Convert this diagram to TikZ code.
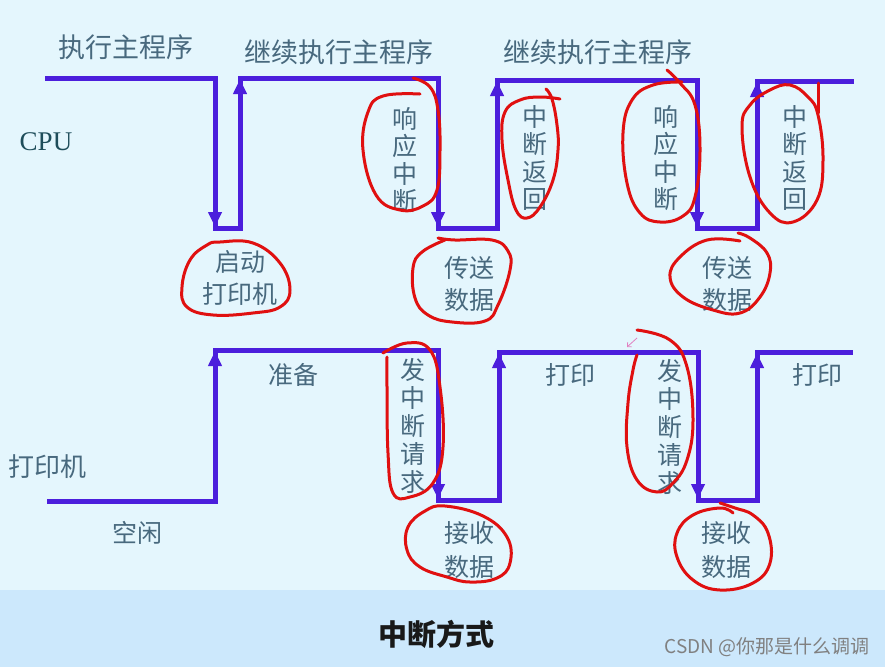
\documentclass[tikz,border=0pt]{standalone}
\usepackage{fontspec}
\setmainfont{Liberation Serif}
\newfontfamily\cjk{Noto Sans CJK SC}
\usetikzlibrary{arrows.meta}
\definecolor{bgtop}{HTML}{E4F6FD}
\definecolor{bgbot}{HTML}{CCE8FC}
\definecolor{wavecol}{HTML}{4B1EDC}
\definecolor{lbl}{HTML}{48697E}
\definecolor{cpucol}{HTML}{1E4D5A}
\definecolor{pen}{HTML}{E01010}
\definecolor{cursor}{HTML}{E080C0}
\begin{document}
\begin{tikzpicture}[x=1pt,y=-1pt,
  wave/.style={draw=wavecol, line width=5pt, line join=miter},
  warrow/.style={draw=wavecol, line width=5pt, -{Triangle[width=13pt,length=15pt]}, shorten >=1pt},
  lab/.style={text=lbl, font=\cjk\fontsize{25}{28}\selectfont, inner sep=0pt, align=center},
  toplab/.style={text=lbl, font=\cjk\fontsize{27}{28}\selectfont, inner sep=0pt},
  vlab/.style={text=lbl, font=\cjk\fontsize{25}{27.5}\selectfont, inner sep=0pt, align=center},
  vlabb/.style={text=lbl, font=\cjk\fontsize{25}{28}\selectfont, inner sep=0pt, align=center},
  twolab/.style={text=lbl, font=\cjk\fontsize{25}{32}\selectfont, inner sep=0pt, align=center},
  twolabb/.style={text=lbl, font=\cjk\fontsize{25}{34}\selectfont, inner sep=0pt, align=center},
  redloop/.style={draw=pen, line width=3pt, line cap=round, line join=round}
]
\useasboundingbox (0,0) rectangle (885,667);
\fill[bgtop] (0,0) rectangle (885,590);
\fill[bgbot] (0,590) rectangle (885,667);

% CPU waveform
\coordinate (c0) at (45,78);
\coordinate (c1) at (215,78);
\coordinate (c2) at (215,228);
\coordinate (c3) at (240,228);
\coordinate (c4) at (240,78);
\coordinate (c5) at (438,78);
\coordinate (c6) at (438,228);
\coordinate (c7) at (497,228);
\coordinate (c8) at (497,80);
\coordinate (c9) at (697,80);
\coordinate (c10) at (697,228);
\coordinate (c11) at (757,228);
\coordinate (c12) at (757,81);
\coordinate (c13) at (854,81);
\draw[wave] (c0)--(c1)--(c2)--(c3)--(c4)--(c5)--(c6)--(c7)--(c8)--(c9)--(c10)--(c11)--(c12)--(c13);
\draw[warrow] (c1)--(c2);
\draw[warrow] (c3)--(c4);
\draw[warrow] (c5)--(c6);
\draw[warrow] (c7)--(c8);
\draw[warrow] (c9)--(c10);
\draw[warrow] (c11)--(c12);

% Printer waveform
\coordinate (p0) at (47,501);
\coordinate (p1) at (215,501);
\coordinate (p2) at (215,350);
\coordinate (p3) at (438,350);
\coordinate (p4) at (438,500);
\coordinate (p5) at (499,500);
\coordinate (p6) at (499,352);
\coordinate (p7) at (698,352);
\coordinate (p8) at (698,500);
\coordinate (p9) at (757,500);
\coordinate (p10) at (757,352);
\coordinate (p11) at (853,352);
\draw[wave] (p0)--(p1)--(p2)--(p3)--(p4)--(p5)--(p6)--(p7)--(p8)--(p9)--(p10)--(p11);
\draw[warrow] (p1)--(p2);
\draw[warrow] (p3)--(p4);
\draw[warrow] (p5)--(p6);
\draw[warrow] (p7)--(p8);
\draw[warrow] (p9)--(p10);

% Labels
\node[toplab] (t1) at (126,47) {执行主程序};
\node[toplab] (t2) at (339,52) {继续执行主程序};
\node[toplab] (t3) at (598,52) {继续执行主程序};
\node[text=cpucol, font=\fontsize{27}{27}\selectfont, inner sep=0pt] (cpu) at (46,142) {CPU};
\node[vlab] (r1) at (405,160) {响\\应\\中\\断};
\node[vlab] (f1) at (535,158) {中\\断\\返\\回};
\node[vlab] (r2) at (666,158) {响\\应\\中\\断};
\node[vlab] (f2) at (795,158) {中\\断\\返\\回};
\node[twolab] (qd) at (240,278) {启动\\打印机};
\node[twolab] (cs1) at (469,284) {传送\\数据};
\node[twolab] (cs2) at (727,284) {传送\\数据};
\node[lab] (zb) at (293,375) {准备};
\node[lab] (kx) at (137,533) {空闲};
\node[text=lbl, font=\cjk\fontsize{26}{28}\selectfont, inner sep=0pt] (dyj) at (48,467) {打印机};
\node[vlabb] (fq1) at (413,426) {发\\中\\断\\请\\求};
\node[vlabb] (fq2) at (670,427) {发\\中\\断\\请\\求};
\node[twolabb] (js1) at (469,550) {接收\\数据};
\node[twolabb] (js2) at (726,550) {接收\\数据};
\node[lab] (dy1) at (570,375) {打印};
\node[lab] (dy2) at (817,375) {打印};

\node[font=\cjk\bfseries\fontsize{29}{29}\selectfont, text=black!90, inner sep=0pt] (title) at (436,634) {中断方式};
\node[anchor=east, text=black!50, font=\cjk\fontsize{19}{19}\selectfont, inner sep=0pt] (wm) at (870,647) {CSDN @你那是什么调调};

% Red hand-drawn loops
\draw[redloop] plot[smooth, tension=0.7] coordinates {(413,78) (430,87) (438,110) (440,150) (437,190) (423,206) (400,210) (376,195) (363,150) (368,112) (383,96) (420,94)};
\draw[redloop] plot[smooth cycle, tension=0.7] coordinates {(220,242) (253,243) (280,263) (290,290) (280,307) (253,313) (213,315) (187,307) (182,287) (190,260) (207,245)};
\draw[redloop] plot[smooth, tension=0.7] coordinates {(438,238) (455,240) (492,240) (508,251) (510,270) (498,305) (485,321) (452,322) (428,315) (415,298) (413,268) (422,252) (445,240)};
\draw[redloop] plot[smooth, tension=0.7] coordinates {(546,89) (552,99) (557,125) (558,150) (553,180) (540,207) (527,218) (516,210) (508,180) (502,140) (505,112) (520,100) (540,97) (560,99)};
\draw[redloop] plot[smooth, tension=0.7] coordinates {(667,70) (680,83) (695,105) (700,150) (695,197) (683,216) (660,222) (640,213) (627,183) (623,133) (632,100) (653,85) (682,82)};
\draw[redloop] (818,83) -- (818,113);
\draw[redloop] plot[smooth cycle, tension=0.7] coordinates {(790,85) (808,97) (818,115) (823,160) (817,200) (793,222) (770,213) (750,177) (742,127) (750,105) (770,90)};
\draw[redloop] plot[smooth, tension=0.7] coordinates {(738,233) (750,238) (767,253) (770,273) (760,297) (740,313) (713,310) (683,297) (670,277) (680,257) (707,240) (740,241)};
\draw[redloop] plot[smooth, tension=0.7] coordinates {(383,353) (407,343) (430,350) (440,387) (443,447) (433,483) (410,497) (393,493) (388,453) (387,387) (387,357)};
\draw[redloop] plot[smooth cycle, tension=0.7] coordinates {(445,506) (483,516) (507,537) (510,563) (497,578) (470,582) (447,577) (420,567) (407,550) (408,527) (425,511)};
\draw[redloop] plot[smooth, tension=0.7] coordinates {(637,330) (670,340) (687,367) (693,420) (687,460) (673,483) (657,492) (637,480) (627,447) (628,403) (633,370) (637,355)};
\draw[redloop] plot[smooth, tension=0.7] coordinates {(720,503) (735,508) (753,515) (768,533) (770,563) (753,583) (720,590) (693,580) (677,557) (677,533) (693,515) (720,508) (733,513)};
\draw[draw=cursor, line width=0.8pt, -{Straight Barb[length=3pt]}] (637,338) -- (627,347);
\end{tikzpicture}
\end{document}
